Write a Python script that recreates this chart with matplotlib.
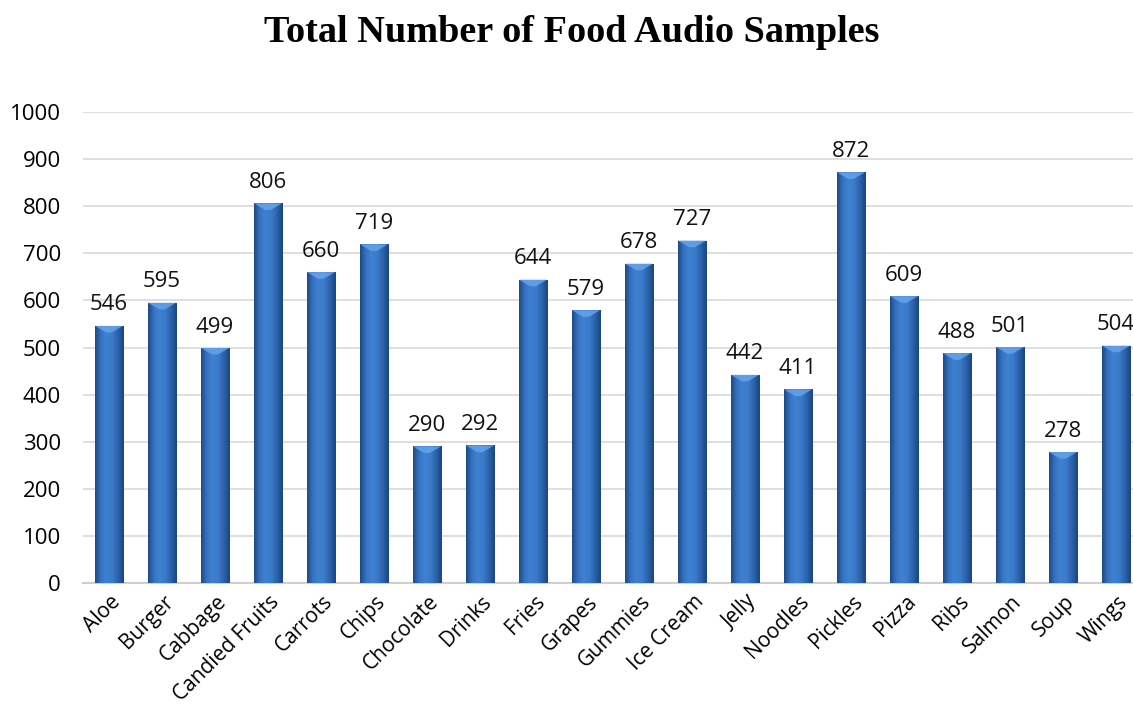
import numpy as np
import matplotlib
matplotlib.use("Agg")
import matplotlib.pyplot as plt
import matplotlib.transforms as mtrans
from matplotlib.colors import LinearSegmentedColormap
from matplotlib.patches import Polygon

categories = ["Aloe", "Burger", "Cabbage", "Candied Fruits", "Carrots", "Chips",
              "Chocolate", "Drinks", "Fries", "Grapes", "Gummies", "Ice Cream",
              "Jelly", "Noodles", "Pickles", "Pizza", "Ribs", "Salmon", "Soup", "Wings"]
values = [546, 595, 499, 806, 660, 719, 290, 292, 644, 579, 678, 727,
          442, 411, 872, 609, 488, 501, 278, 504]
yticks = [0, 100, 200, 300, 400, 500, 600, 700, 800, 900, 1000]
title = "Total Number of Food Audio Samples"

W, H = 1133, 711
fig = plt.figure(figsize=(W / 100, H / 100), dpi=100)
ax = fig.add_axes([83 / W, (H - 583) / H, (1133 - 83) / W, (583 - 112) / H])

x = np.arange(len(categories))
bw = 0.53
bars = ax.bar(x, values, width=bw, color="#2f63a8", zorder=2)

cmap = LinearSegmentedColormap.from_list(
    "cyl", ["#1d4a86", "#3673c0", "#3f82d2", "#3a7bca", "#2c63aa", "#1b4580"])
grad = np.linspace(0, 1, 64).reshape(1, -1)
for b in bars:
    x0, y0 = b.get_x(), b.get_y()
    w, h = b.get_width(), b.get_height()
    im = ax.imshow(grad, cmap=cmap, extent=[x0, x0 + w, y0, y0 + h],
                   aspect="auto", zorder=3, interpolation="bicubic")
    im.set_clip_path(b)
    b.set_edgecolor("#1e4f8f")
    b.set_linewidth(0.6)
    bh = 14
    tri = Polygon([[x0, y0 + h], [x0 + w, y0 + h], [x0 + w * 0.6, y0 + h - bh],
                   [x0 + w * 0.4, y0 + h - bh]], closed=True,
                  facecolor="#66a3ea", edgecolor="none", zorder=4, alpha=0.85)
    ax.add_patch(tri)
    ax.text(x0 + w / 2, y0 + h + 22, str(int(h)), ha="center", va="bottom",
            fontsize=16, family="Open Sans", color="#111111", zorder=5)

ax.set_xlim(-0.49, 19.32)
ax.set_ylim(0, 1000)
ax.set_yticks(yticks)
ax.set_yticklabels([str(t) for t in yticks], fontsize=16, family="Open Sans")
ax.set_xticks(x)
ax.set_xticklabels(categories, rotation=45, ha="right", rotation_mode="anchor",
                   fontsize=15, family="Open Sans")
ax.tick_params(axis="x", length=0, pad=6)
ax.tick_params(axis="y", length=0, pad=16)
offset = mtrans.ScaledTranslation(1 / 100, 0, fig.dpi_scale_trans)
for lbl in ax.get_xticklabels():
    lbl.set_transform(lbl.get_transform() + offset)
ax.grid(axis="y", color="#d9d9d9", linewidth=1.2, zorder=0)
ax.set_axisbelow(True)
for s in ["top", "right", "left"]:
    ax.spines[s].set_visible(False)
ax.spines["bottom"].set_color("#cfcfcf")
ax.spines["bottom"].set_linewidth(1.5)

fig.text(572 / W, 1 - 33 / H, title, ha="center", va="center",
         fontsize=27.5, fontweight="bold", family="Liberation Serif")

fig.savefig("out.png", dpi=100)
